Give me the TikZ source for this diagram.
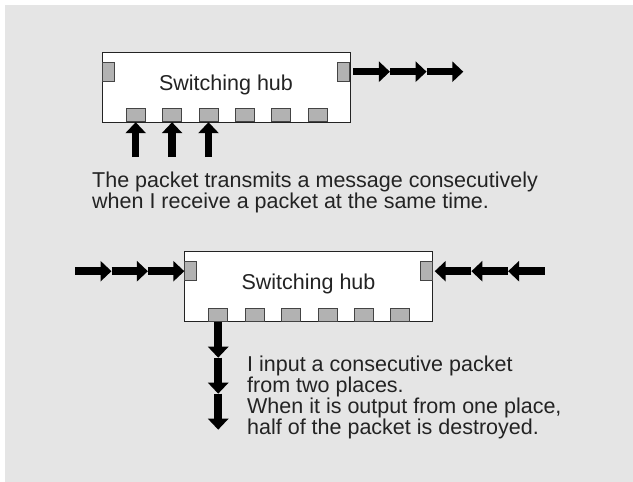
\documentclass[tikz,border=0pt]{standalone}
\usepackage{fontspec}
\setmainfont{Liberation Sans}
\usepackage{tikz}
\usepackage{xcolor}
\usetikzlibrary{calc,positioning,arrows.meta}
\definecolor{panel}{RGB}{229,229,229}
\definecolor{portgray}{RGB}{178,178,178}
\definecolor{ink}{RGB}{35,35,35}
\tikzset{
    hub/.style={draw=ink, fill=white, minimum width=248pt, minimum height=70pt, inner sep=0pt},
    port/.style={draw=ink!85, fill=portgray, inner sep=0pt, line width=0.8pt},
    sideport/.style={port, minimum width=12pt, minimum height=19pt},
    downport/.style={port, minimum width=19pt, minimum height=13pt, anchor=south west},
    pkt/.style={line width=7.5pt, -{Triangle[length=11pt,width=20pt]}},
    caption/.style={font=\fontsize{21.5}{21}\selectfont, text=ink, align=left, inner sep=0pt}
}

\begin{document}
\begin{tikzpicture}[x=1pt, y=-1pt]
                \fill[panel] (5,5) rectangle (633,482);
                \useasboundingbox (0,0) rectangle (633,482);
                \node[hub] (hubA) at (226,87) {};
                \node[hub] (hubB) at (308.5,286.5) {};
                \foreach \h in {hubA,hubB} {
                    \node[caption, anchor=base] (\h text) at ([yshift=-3pt]\h.center) {Switching hub};
                    \node[sideport, anchor=north west] (\h l) at ([yshift=-10pt]\h.north west) {};
                    \node[sideport, anchor=north east] (\h r) at ([yshift=-10pt]\h.north east) {};
                    \foreach \i in {0,...,5}
                        \node[downport] (\h p\i) at ([xshift=24pt+\i*36.4pt]\h.south west) {};
                }
                \coordinate[right=3pt of hubAr.east] (outA0);
                \coordinate (lB0) at (hubBl.west);
                \coordinate[right=2pt of hubBr.east] (rB0);
                \coordinate (dB0) at (hubBp0.south);
                \foreach \i [count=\j] in {0,1,2} {
                    \coordinate[right=36.7pt of outA\i] (outA\j);
                    \draw[pkt] (outA\i) -- (outA\j);
                    \coordinate[below=35pt of hubAp\i.south] (inA\i);
                    \draw[pkt] (inA\i) -- (hubAp\i.south);
                    \coordinate[left=36.4pt of lB\i] (lB\j);
                    \draw[pkt] (lB\j) -- (lB\i);
                    \coordinate[right=36.7pt of rB\i] (rB\j);
                    \draw[pkt] (rB\j) -- (rB\i);
                    \coordinate[below=36pt of dB\i] (dB\j);
                    \draw[pkt] (dB\i) -- (dB\j);
                }
                \node[caption, anchor=north west] (noteA) at (92,172) {The packet transmits a message consecutively\\when I receive a packet at the same time.};
                \node[caption, anchor=north west] (noteB) at (247,356) {I input a consecutive packet\\from two places.\\When it is output from one place,\\half of the packet is destroyed.};
            \end{tikzpicture}
\end{document}
